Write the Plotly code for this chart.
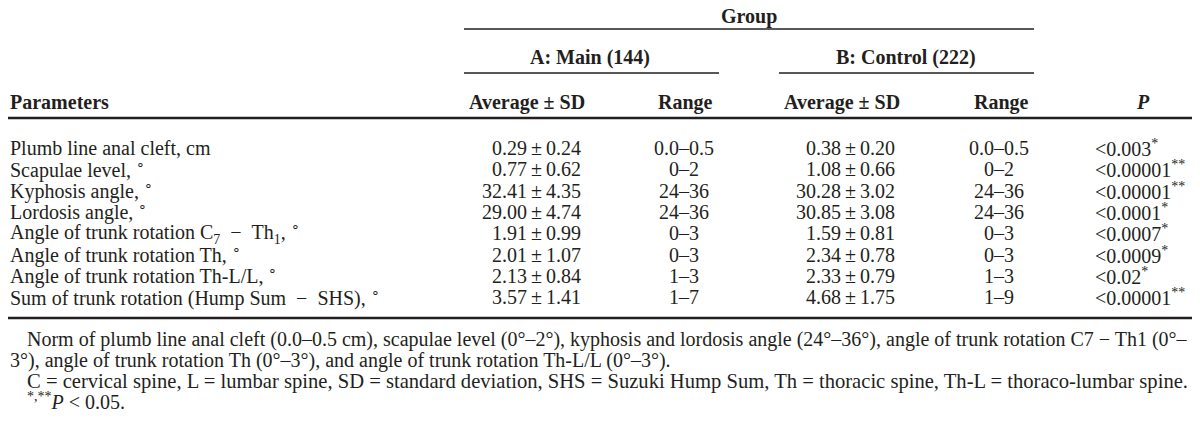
import plotly.graph_objects as go

# ---------------- data ----------------
NB2 = "\u00a0\u00a0"
params = [
    "Plumb line anal cleft, cm",
    "Scapulae level, <sup>∘</sup>",
    "Kyphosis angle, <sup>∘</sup>",
    "Lordosis angle, <sup>∘</sup>",
    "Angle of trunk rotation C<sub>7</sub>" + NB2 + "−" + NB2 + "Th<sub>1</sub>, <sup>∘</sup>",
    "Angle of trunk rotation Th, <sup>∘</sup>",
    "Angle of trunk rotation Th-L/L, <sup>∘</sup>",
    "Sum of trunk rotation (Hump Sum" + NB2 + "−" + NB2 + "SHS), <sup>∘</sup>",
]
a_mean = [0.29, 0.77, 32.41, 29.00, 1.91, 2.01, 2.13, 3.57]
a_sd = [0.24, 0.62, 4.35, 4.74, 0.99, 1.07, 0.84, 1.41]
a_range = ["0.0–0.5", "0–2", "24–36", "24–36", "0–3", "0–3", "1–3", "1–7"]
b_mean = [0.38, 1.08, 30.28, 30.85, 1.59, 2.34, 2.33, 4.68]
b_sd = [0.20, 0.66, 3.02, 3.08, 0.81, 0.78, 0.79, 1.75]
b_range = ["0.0–0.5", "0–2", "24–36", "24–36", "0–3", "0–3", "1–3", "1–9"]
p_vals = ["<0.003", "<0.00001", "<0.00001", "<0.0001", "<0.0007", "<0.0009", "<0.02", "<0.00001"]
p_sig = ["*", "**", "**", "*", "*", "*", "*", "**"]

group_title = "Group"
group_a = "A: Main (144)"
group_b = "B: Control (222)"
col_headers = ["Parameters", "Average ± SD", "Range", "Average ± SD", "Range", "<i>P</i>"]

footnotes = [
    "Norm of plumb line anal cleft (0.0–0.5 cm), scapulae level (0°–2°), kyphosis and lordosis angle (24°–36°), angle of trunk rotation C7 − Th1 (0°–",
    "3°), angle of trunk rotation Th (0°–3°), and angle of trunk rotation Th-L/L (0°–3°).",
    "C = cervical spine, L = lumbar spine, SD = standard deviation, SHS = Suzuki Hump Sum, Th = thoracic spine, Th-L = thoraco-lumbar spine.",
    "<sup>*,**</sup><i>P</i> < 0.05.",
]

# ---------------- layout ----------------
W, H = 1200, 446
FONT = "Liberation Serif, Times New Roman, serif"
COLOR = "#231f20"
FS = 20

fig = go.Figure()
ann = []


def add(text, x, y, xanchor="left", size=FS):
    ann.append(dict(text=text, x=x, y=y, xref="x", yref="y", xanchor=xanchor,
                    yanchor="middle", showarrow=False,
                    font=dict(family=FONT, size=size, color=COLOR)))


# header texts
add("<b>" + group_title + "</b>", 741, 8, "center")
add("<b>" + group_a + "</b>", 582, 49, "center")
add("<b>" + group_b + "</b>", 898, 49, "center")
hdr_y = 94
add("<b>" + col_headers[0] + "</b>", 0, hdr_y, "left")
add("<b>" + col_headers[1] + "</b>", 519, hdr_y, "center")
add("<b>" + col_headers[2] + "</b>", 677, hdr_y, "center")
add("<b>" + col_headers[3] + "</b>", 834, hdr_y, "center")
add("<b>" + col_headers[4] + "</b>", 993, hdr_y, "center")
add("<b>" + col_headers[5] + "</b>", 1135, hdr_y, "center")

row0, dy = 140, 21.3
TS = "\u2009"
for i, p in enumerate(params):
    y = row0 + i * dy
    add(p, 0, y, "left")
    add(f"{a_mean[i]:.2f}{TS}±{TS}{a_sd[i]:.2f}", 575, y, "right")
    add(a_range[i], 676, y, "center")
    add(f"{b_mean[i]:.2f}{TS}±{TS}{b_sd[i]:.2f}", 889, y, "right")
    add(b_range[i], 991, y, "center")
    add(p_vals[i] + "<sup>" + p_sig[i] + "</sup>", 1085, y, "left")

fy = [331, 352, 373, 393]
fx = [17, 0, 17, 17]
fs = [FS, FS, 20.6, FS]
for t, x, y, s in zip(footnotes, fx, fy, fs):
    add(t, x, y, "left", s)

shapes = []


def line(x0, x1, y, w):
    shapes.append(dict(type="line", xref="x", yref="y", x0=x0, x1=x1, y0=y, y1=y,
                       line=dict(color=COLOR, width=w)))


line(456, 1026, 21, 1.4)
line(456, 711, 65, 1.4)
line(771, 1026, 65, 1.4)
line(0, W, 110, 2.4)
line(0, W, 310, 2.4)

fig.update_layout(
    width=W, height=H,
    margin=dict(l=0, r=0, t=0, b=0),
    paper_bgcolor="white", plot_bgcolor="white",
    xaxis=dict(range=[0, W], visible=False, fixedrange=True),
    yaxis=dict(range=[H, 0], visible=False, fixedrange=True),
    annotations=ann, shapes=shapes, showlegend=False,
)

fig.write_html("out.html")
